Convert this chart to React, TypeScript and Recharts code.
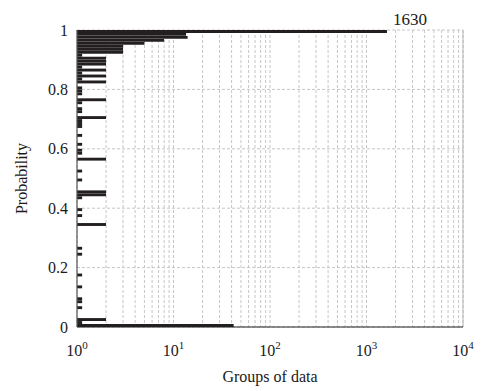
import React from "react";
import {
  BarChart,
  Bar,
  XAxis,
  YAxis,
  CartesianGrid,
  ReferenceLine,
  LabelList,
} from "recharts";

// probability bins (bin centres, 0.01 wide) and how many groups fall in each
const probability = [
  0.005, 0.015, 0.025, 0.065, 0.085, 0.095, 0.135, 0.175, 0.245, 0.265,
  0.345, 0.375, 0.395, 0.435, 0.445, 0.455, 0.495, 0.525, 0.565, 0.585,
  0.595, 0.615, 0.645, 0.675, 0.685, 0.695, 0.705, 0.725, 0.735, 0.755,
  0.765, 0.785, 0.795, 0.805, 0.825, 0.835, 0.845, 0.855, 0.865, 0.875,
  0.885, 0.895, 0.905, 0.915, 0.925, 0.935, 0.945, 0.955, 0.965, 0.975,
  0.985, 0.995,
];
const groups = [
  42, 1.13, 2, 1.13, 1.13, 1.13, 1.13, 1.13, 1.13, 1.13,
  2, 1.13, 1.13, 1.13, 2, 2, 1.13, 1.13, 2, 1.13,
  1.13, 1.13, 1.13, 1.13, 1.13, 1.13, 2, 1.13, 1.13, 1.13,
  2, 1.13, 1.13, 1.13, 2, 1.13, 2, 1.13, 2, 1.13,
  2, 2, 2, 1.13, 3, 3, 3, 5, 8, 14,
  13.5, 1630,
];

const xTicks = [
  1, 2, 3, 4, 5, 6, 7, 8, 9,
  10, 20, 30, 40, 50, 60, 70, 80, 90,
  100, 200, 300, 400, 500, 600, 700, 800, 900,
  1000, 2000, 3000, 4000, 5000, 6000, 7000, 8000, 9000,
  10000,
];
const yTicks = [0, 0.2, 0.4, 0.6, 0.8, 1];

const data = probability.map((p, i) => ({ p, groups: groups[i] }));
const peak = Math.max(...groups);

const FONT = "'Liberation Serif', 'Times New Roman', serif";
const INK = "#1a1a1a";
const textStyle = { fontFamily: FONT, fontSize: 16, fill: INK };

function LogTick(props: any) {
  const { x, y, payload } = props;
  const v = payload.value as number;
  const exp = Math.round(Math.log10(v));
  if (Math.abs(Math.pow(10, exp) - v) > 1e-6) return <g />;
  return (
    <text x={x} y={y + 29} textAnchor="middle" style={textStyle}>
      10
      <tspan dy={-7} style={{ fontSize: 11 }}>
        {exp}
      </tspan>
    </text>
  );
}

function ProbTick(props: any) {
  const { x, y, payload } = props;
  return (
    <text x={x - 9} y={y + 5.5} textAnchor="end" style={textStyle}>
      {payload.value}
    </text>
  );
}

function PeakLabel(props: any) {
  const { x, y, width, value } = props;
  if (value !== peak) return null;
  return (
    <text x={x + width + 6} y={y - 5} textAnchor="start" style={{ ...textStyle, fontSize: 17 }}>
      {value}
    </text>
  );
}

export default function App() {
  return (
    <div style={{ position: "absolute", left: 0, top: 0, background: "#fff" }}>
      <BarChart
        width={483}
        height={391}
        data={data}
        layout="vertical"
        margin={{ top: 30, right: 20, bottom: 0, left: 0 }}
      >
        <CartesianGrid stroke="#c6c6c6" strokeDasharray="3 2" />
        <XAxis
          type="number"
          scale="log"
          domain={[1, 10000]}
          allowDataOverflow
          ticks={xTicks}
          interval={0}
          height={64}
          tick={<LogTick />}
          tickLine={false}
          tickSize={0}
          tickMargin={0}
          axisLine={{ stroke: "#222", strokeWidth: 1.2 }}
          label={{
            content: () => (
              <text x={270} y={382} textAnchor="middle" style={textStyle}>
                Groups of data
              </text>
            ),
          }}
        />
        <YAxis
          type="number"
          dataKey="p"
          domain={[0, 1]}
          reversed
          ticks={yTicks}
          interval={0}
          width={77}
          tick={<ProbTick />}
          tickLine={false}
          tickSize={0}
          tickMargin={0}
          axisLine={{ stroke: "#555", strokeWidth: 1.2 }}
          label={{
            content: () => (
              <text transform="translate(27, 178.5) rotate(-90)" textAnchor="middle" style={textStyle}>
                Probability
              </text>
            ),
          }}
        />
        <ReferenceLine x={10000} stroke="#b5b5b5" />
        <Bar dataKey="groups" fill="#231f20" barSize={2.9} isAnimationActive={false}>
          <LabelList dataKey="groups" content={<PeakLabel />} />
        </Bar>
      </BarChart>
    </div>
  );
}
